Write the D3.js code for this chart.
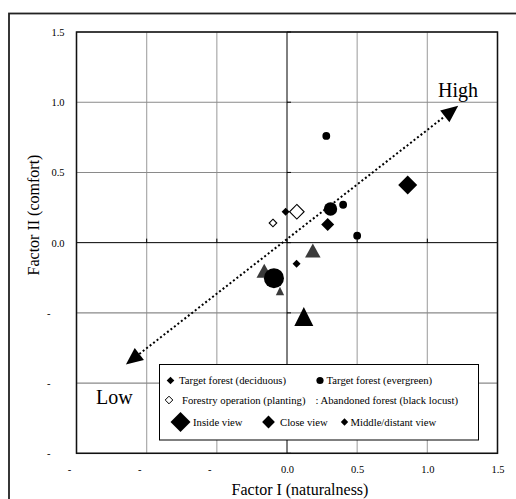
<!DOCTYPE html>
<html>
<head>
<meta charset="utf-8">
<script src="https://cdn.jsdelivr.net/npm/d3@7/dist/d3.min.js"></script>
<style>
  body { margin: 0; background: #fff; }
  svg text { font-family: "Liberation Serif", "Times New Roman", serif; fill: #000; }
</style>
</head>
<body>
<div id="chart"></div>
<script>
// axis values and labels (the negative labels lost their digits in the original)
const xTicks = [-1.5, -1.0, -0.5, 0.0, 0.5, 1.0, 1.5]
const xTickLabels = ['-', '-', '-', '0.0', '0.5', '1.0', '1.5']
const yTicks = [-1.5, -1.0, -0.5, 0.0, 0.5, 1.0, 1.5]
const yTickLabels = ['-', '-', '-', '0.0', '0.5', '1.0', '1.5']

// [factor I, factor II, view]
const deciduous = [[0.86, 0.41, 'inside'], [0.29, 0.13, 'close'], [-0.01, 0.22, 'distant'], [0.068, -0.151, 'distant']]
const evergreen = [[-0.093, -0.253, 'inside'], [0.31, 0.24, 'close'], [0.28, 0.76, 'distant'], [0.40, 0.27, 'distant'], [0.50, 0.05, 'distant']]
const planting = [[0.07, 0.22, 'close'], [-0.10, 0.14, 'distant']]
const locust = [[0.12, -0.526, 'inside'], [0.184, -0.056, 'close'], [-0.162, -0.20, 'close'], [-0.05, -0.345, 'distant']]

// dotted Low -> High arrow, tip to tip
const arrowEnds = [[-1.148, -0.867], [1.22, 0.974]]

const width = 516, height = 499

const svg = d3.select('#chart').append('svg')
	.attr('width', width)
	.attr('height', height)

const x = d3.scaleLinear().domain([-1.5, 1.5]).range([76.5, 497.5])
const y = d3.scaleLinear().domain([-1.5, 1.5]).range([453.3, 32])

// outer frame, runs off the page right and bottom
svg.append('rect')
	.attr('x', 9).attr('y', 13.5)
	.attr('width', 530).attr('height', 520)
	.attr('fill', 'none').attr('stroke', '#222').attr('stroke-width', 1.8)

// grid
svg.append('g').selectAll('line').data(xTicks.filter(d => d !== 0)).enter().append('line')
	.attr('x1', d => x(d)).attr('x2', d => x(d))
	.attr('y1', y(1.5)).attr('y2', y(-1.5))
	.attr('stroke', '#aaa').attr('stroke-width', 1.2)
svg.append('g').selectAll('line').data(yTicks.filter(d => d !== 0)).enter().append('line')
	.attr('y1', d => y(d)).attr('y2', d => y(d))
	.attr('x1', x(-1.5)).attr('x2', x(1.5))
	.attr('stroke', '#8a8a8a').attr('stroke-width', 1.1)

// zero axes with short ticks
svg.append('line')
	.attr('x1', x(0)).attr('x2', x(0)).attr('y1', y(1.5)).attr('y2', y(-1.5))
	.attr('stroke', '#000').attr('stroke-width', 1)
svg.append('line')
	.attr('x1', x(-1.5)).attr('x2', x(1.5)).attr('y1', y(0)).attr('y2', y(0))
	.attr('stroke', '#000').attr('stroke-width', 1)
svg.append('g').selectAll('line').data(yTicks).enter().append('line')
	.attr('x1', x(0)).attr('x2', x(0) + 4)
	.attr('y1', d => y(d)).attr('y2', d => y(d))
	.attr('stroke', '#000')
svg.append('g').selectAll('line').data(xTicks).enter().append('line')
	.attr('x1', d => x(d)).attr('x2', d => x(d))
	.attr('y1', y(0)).attr('y2', y(0) - 4)
	.attr('stroke', '#000')

// plot border
svg.append('rect')
	.attr('x', x(-1.5)).attr('y', y(1.5))
	.attr('width', x(1.5) - x(-1.5)).attr('height', y(-1.5) - y(1.5))
	.attr('fill', 'none').attr('stroke', '#111').attr('stroke-width', 1.5)

// tick labels
const xAxis = svg.append('g')
	.attr('transform', `translate(0,${y(-1.5) + 9})`)
	.call(d3.axisBottom(x).tickValues(xTicks).tickSize(0).tickFormat((d, i) => xTickLabels[i]))
xAxis.select('.domain').remove()
xAxis.selectAll('text')
	.style('font-family', '"Liberation Serif", serif').style('font-size', '10.5px')
	.attr('dx', (d, i) => xTickLabels[i] === '-' ? -7.5 : 0)

const yAxis = svg.append('g')
	.attr('transform', `translate(${x(-1.5) - 9},0)`)
	.call(d3.axisLeft(y).tickValues(yTicks).tickSize(0).tickFormat((d, i) => yTickLabels[i]))
yAxis.select('.domain').remove()
yAxis.selectAll('text')
	.style('font-family', '"Liberation Serif", serif').style('font-size', '10.5px')
	.attr('dx', (d, i) => yTickLabels[i] === '-' ? -14 : 0)

// axis titles
svg.append('text')
	.attr('x', 300).attr('y', 494.5)
	.attr('text-anchor', 'middle').style('font-size', '16px')
	.text('Factor I (naturalness)')
svg.append('text')
	.attr('transform', 'translate(38.5,215) rotate(-90)')
	.attr('text-anchor', 'middle').style('font-size', '16px')
	.text('Factor II (comfort)')

// dotted arrow with heads at both ends
const p0 = [x(arrowEnds[0][0]), y(arrowEnds[0][1])]
const p1 = [x(arrowEnds[1][0]), y(arrowEnds[1][1])]
const ang = Math.atan2(p1[1] - p0[1], p1[0] - p0[0])
const headLen = 17, headHalf = 7.5
function arrowHead(tip, a) {
	const bx = tip[0] - headLen * Math.cos(a), by = tip[1] - headLen * Math.sin(a)
	const nx = -Math.sin(a) * headHalf, ny = Math.cos(a) * headHalf
	return `M${tip[0]},${tip[1]}L${bx + nx},${by + ny}L${bx - nx},${by - ny}Z`
}
svg.append('line')
	.attr('x1', p0[0] + headLen * Math.cos(ang)).attr('y1', p0[1] + headLen * Math.sin(ang))
	.attr('x2', p1[0] - headLen * Math.cos(ang)).attr('y2', p1[1] - headLen * Math.sin(ang))
	.attr('stroke', '#000').attr('stroke-width', 2).attr('stroke-dasharray', '2,2.4')
svg.append('path').attr('d', arrowHead(p1, ang)).attr('fill', '#000')
svg.append('path').attr('d', arrowHead(p0, ang + Math.PI)).attr('fill', '#000')

svg.append('text').attr('x', 438).attr('y', 96.5).style('font-size', '20px').text('High')
svg.append('text').attr('x', 96).attr('y', 404).style('font-size', '20px').text('Low')

// marker shapes
const diamondSize = {inside: 9.5, close: 6.5, distant: 4}
const openDiamondSize = {inside: 9.5, close: 7.3, distant: 3.8}
const circleSize = {inside: 10, close: 6.7, distant: 3.9}
const triangleSize = {inside: [19, 19], close: [15.5, 14], distant: [8.3, 8.5]}

const diamondPath = h => `M0,${-h}L${h},0L0,${h}L${-h},0Z`
const trianglePath = ([w, h]) => `M0,${-h / 2}L${w / 2},${h / 2}L${-w / 2},${h / 2}Z`
const circlePath = r => d3.symbol(d3.symbolCircle, Math.PI * r * r)()

const marks = svg.append('g')

marks.selectAll('.tri').data(locust).enter().append('path')
	.attr('class', 'tri')
	.attr('d', d => trianglePath(triangleSize[d[2]]))
	.attr('transform', d => `translate(${x(d[0])},${y(d[1])})`)
	.attr('fill', d => d[2] === 'inside' ? '#000' : '#3a3a3a')

marks.selectAll('.ever').data(evergreen).enter().append('path')
	.attr('class', 'ever')
	.attr('d', d => circlePath(circleSize[d[2]]))
	.attr('transform', d => `translate(${x(d[0])},${y(d[1])})`)
	.attr('fill', '#000')

marks.selectAll('.deci').data(deciduous).enter().append('path')
	.attr('class', 'deci')
	.attr('d', d => diamondPath(diamondSize[d[2]]))
	.attr('transform', d => `translate(${x(d[0])},${y(d[1])})`)
	.attr('fill', '#000')

marks.selectAll('.plant').data(planting).enter().append('path')
	.attr('class', 'plant')
	.attr('d', d => diamondPath(openDiamondSize[d[2]]))
	.attr('transform', d => `translate(${x(d[0])},${y(d[1])})`)
	.attr('fill', '#fff').attr('stroke', '#000').attr('stroke-width', 1.1)

// legend
const legend = svg.append('g')
legend.append('rect')
	.attr('x', 159.5).attr('y', 364.5).attr('width', 319).attr('height', 75.5)
	.attr('fill', '#fff').attr('stroke', '#000').attr('stroke-width', 1)

const legendFont = '10.7px'
function legendText(tx, ty, label) {
	legend.append('text').attr('x', tx).attr('y', ty).attr('dy', '0.33em')
		.style('font-size', legendFont).text(label)
}
function legendMark(d, mx, my, fill, stroke) {
	legend.append('path').attr('d', d).attr('transform', `translate(${mx},${my})`)
		.attr('fill', fill).attr('stroke', stroke || 'none')
}

legendMark(diamondPath(3.8), 170.5, 380.5, '#000')
legendText(179, 380.5, 'Target forest (deciduous)')
legendMark(circlePath(3.6), 320, 380.5, '#000')
legendText(326.5, 380.5, 'Target forest (evergreen)')

legendMark(diamondPath(3.8), 169, 400, '#fff', '#000')
legendText(182, 400, 'Forestry operation (planting)')
legendText(315.5, 400, ': Abandoned forest (black locust)')

legendMark(diamondPath(10), 180.5, 422, '#000')
legendText(193, 422, 'Inside view')
legendMark(diamondPath(6.4), 268.5, 422, '#000')
legendText(280, 422, 'Close view')
legendMark(diamondPath(3.7), 344.5, 422, '#000')
legendText(350.5, 422, 'Middle/distant view')
</script>
</body>
</html>
